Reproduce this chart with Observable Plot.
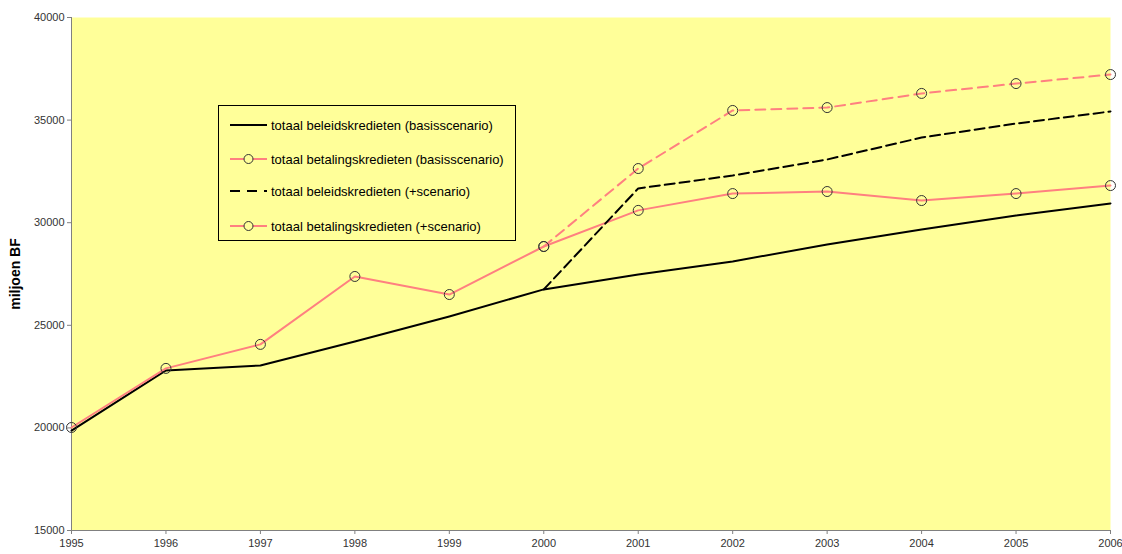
<!DOCTYPE html>
<html><head><meta charset="utf-8">
<script src="https://cdn.jsdelivr.net/npm/d3@7"></script>
<script src="https://cdn.jsdelivr.net/npm/@observablehq/plot@0.6"></script>
<style>
body{margin:0;background:#fff;font-family:"Liberation Sans",Arial,sans-serif}
#wrap{position:relative;width:1122px;height:554px}
#legend{position:absolute;left:218px;top:105px;width:296px;height:134px;border:1px solid #000;background:#ffff99;font-size:13px;color:#000}
#legend .row{position:absolute;left:11px;height:14px;display:flex;align-items:center}
#legend svg{margin-right:3px}
</style>
</head><body><div id="wrap"><div id="legend"></div></div>
<script>
const years = [1995,1996,1997,1998,1999,2000,2001,2002,2003,2004,2005,2006];
const beleidsBasis = [19870,22800,23040,24210,25430,26750,27480,28110,28940,29670,30350,30940];
const betalingsBasis = [20020,22900,24070,27380,26500,28840,30600,31420,31520,31080,31420,31810];
const plusYears = [2000,2001,2002,2003,2004,2005,2006];
const beleidsPlus = [26750,31670,32300,33080,34150,34830,35420];
const betalingsPlus = [28840,32640,35470,35610,36300,36780,37220];
const yTicks = [15000,20000,25000,30000,35000,40000];
const seriesNames = ["totaal beleidskredieten (basisscenario)","totaal betalingskredieten (basisscenario)","totaal beleidskredieten (+scenario)","totaal betalingskredieten (+scenario)"];

const PINK = "#ff8080", BG = "#ffff99";
const s1 = years.map((x,i)=>({x,y:beleidsBasis[i]}));
const s2 = years.map((x,i)=>({x,y:betalingsBasis[i]}));
const s3 = plusYears.map((x,i)=>({x,y:beleidsPlus[i]}));
const s4 = plusYears.map((x,i)=>({x,y:betalingsPlus[i]}));

const chart = Plot.plot({
  width:1122, height:554,
  marginLeft:71, marginRight:12, marginTop:17, marginBottom:24,
  style:{fontFamily:"'Liberation Sans',Arial,sans-serif", fontSize:"11px", background:"#fff"},
  x:{domain:[1995,2006]},
  y:{domain:[15000,40000]},
  marks:[
    Plot.frame({fill:BG, stroke:null}),
    Plot.axisX({ticks:years, tickFormat:d=>String(d), tickSize:4, tickPadding:5, stroke:"#808080", color:"#333", label:null}),
    Plot.axisY({ticks:yTicks, tickFormat:d=>String(d), tickSize:4, tickPadding:3, stroke:"#808080", color:"#333", label:"miljoen BF", labelAnchor:"center", labelArrow:"none", labelOffset:61}),
    Plot.ruleX([1995],{stroke:"#808080"}),
    Plot.ruleY([15000],{stroke:"#808080"}),
    Plot.line(s1,{x:"x",y:"y",stroke:"#000",strokeWidth:2}),
    Plot.line(s2,{x:"x",y:"y",stroke:PINK,strokeWidth:2}),
    Plot.dot(s2,{x:"x",y:"y",r:5,stroke:"#333",strokeWidth:1,fill:"none"}),
    Plot.line(s3,{x:"x",y:"y",stroke:"#000",strokeWidth:2,strokeDasharray:"10,5"}),
    Plot.line(s4,{x:"x",y:"y",stroke:PINK,strokeWidth:2,strokeDasharray:"10,6"}),
    Plot.dot(s4,{x:"x",y:"y",r:5,stroke:"#333",strokeWidth:1,fill:"none"})
  ]
});
d3.select(chart).selectAll('[aria-label="y-axis label"] text').style("font-weight","bold").style("font-size","14px").attr("fill","#000");
document.getElementById("wrap").prepend(chart);
chart.style.position="absolute"; chart.style.left="0"; chart.style.top="0";

const rowsTop=[12,46,78,113];
const sw=[
  '<line x1="0" y1="7" x2="37" y2="7" stroke="#000" stroke-width="2"/>',
  '<line x1="0" y1="7" x2="37" y2="7" stroke="'+PINK+'" stroke-width="2"/><circle cx="18.5" cy="7" r="4.5" fill="'+BG+'" stroke="#333"/>',
  '<line x1="0" y1="7" x2="37" y2="7" stroke="#000" stroke-width="2" stroke-dasharray="10,7"/>',
  '<line x1="0" y1="7" x2="37" y2="7" stroke="'+PINK+'" stroke-width="2"/><circle cx="18.5" cy="7" r="4.5" fill="'+BG+'" stroke="#333"/>'
];
const lg=document.getElementById("legend");
seriesNames.forEach((n,i)=>{
  const d=document.createElement("div");d.className="row";d.style.top=rowsTop[i]+"px";
  d.innerHTML='<svg width="38" height="14">'+sw[i]+'</svg><span>'+n+'</span>';
  lg.appendChild(d);
});
</script>
</body></html>
